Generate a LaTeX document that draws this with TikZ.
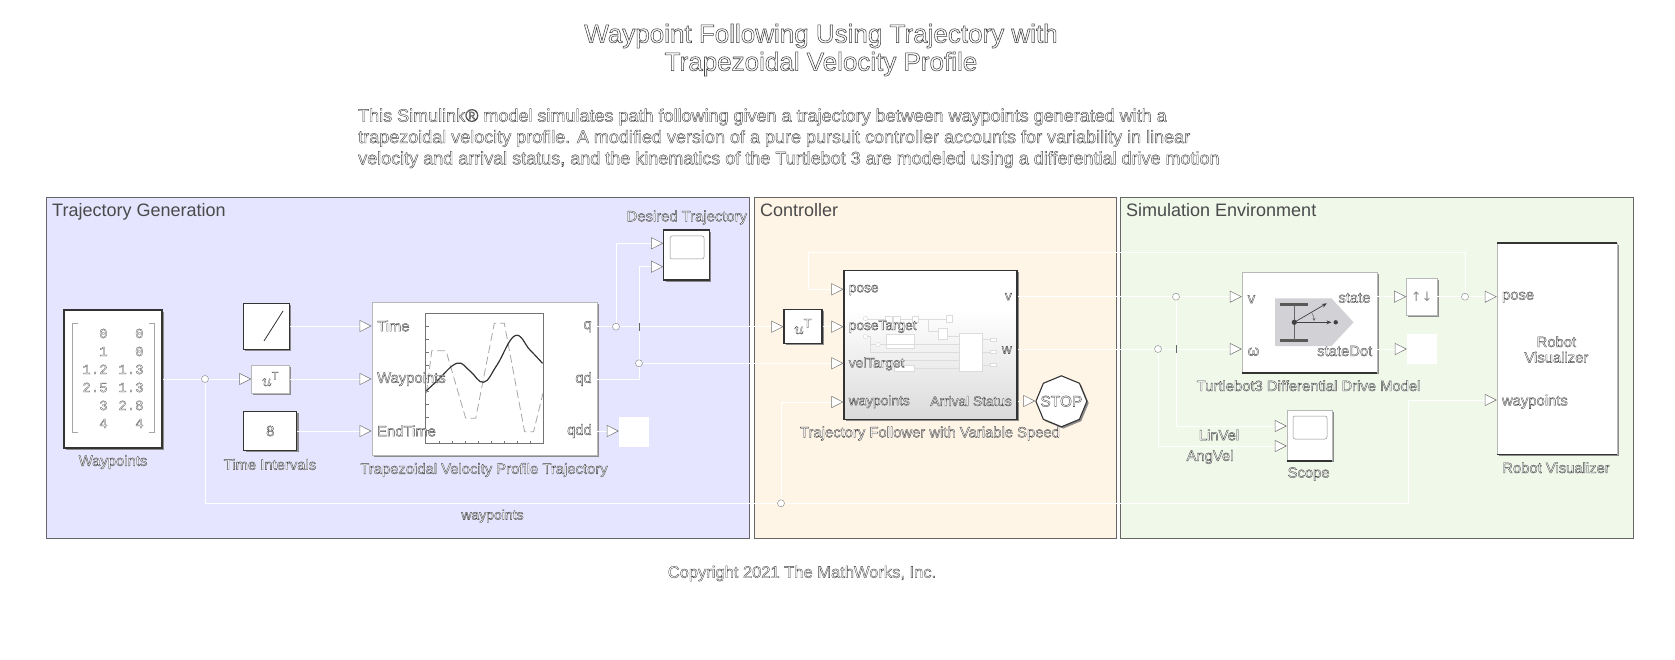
\documentclass[tikz,border=0pt]{standalone}
\usepackage{fontspec}
\setmainfont{Liberation Sans}
\newfontfamily\monof{Liberation Mono}
\newfontfamily\dejav{DejaVu Sans}
\usetikzlibrary{arrows.meta,shadows,shapes.geometric}
\definecolor{edgedark}{HTML}{333333}
\definecolor{edgegroup}{HTML}{666666}
\definecolor{grpblue}{HTML}{E5E5FF}
\definecolor{grporange}{HTML}{FFF5E6}
\definecolor{grpgreen}{HTML}{F0F8EA}
\definecolor{titlec}{HTML}{4A4A4A}
\definecolor{icong}{HTML}{D2D2D6}
\definecolor{iconl}{HTML}{DCDCDC}
\newcommand{\halotxt}[2][0.35]{\textcolor{white}{\special{pdf:code 2 Tr #1 w 0.25 0.25 0.25 RG}#2\special{pdf:code 0 Tr}}}
\pgfdeclareverticalshading{ctrlfade}{100bp}{color(0bp)=(black!24); color(62bp)=(white); color(100bp)=(white)}
\tikzset{
  x=1pt,y=-1pt,
  shad/.style={general shadow={fill=black!45,shadow xshift=1.8pt,shadow yshift=-1.8pt}},
  dkblock/.style={draw=edgedark,line width=1.1pt,fill=white,shad,inner sep=0pt},
  ltblock/.style={draw=black!28,line width=.5pt,fill=white,shad,inner sep=0pt},
  blank/.style={fill=white,inner sep=0pt},
  lbl/.style={font=\fontsize{14.8}{15.6}\selectfont,inner sep=0pt},
  cport/.style={lbl,font=\fontsize{13.7}{15}\selectfont},
  lblc/.style={lbl,align=center},
  grptitle/.style={font=\fontsize{18}{20}\selectfont,text=titlec,anchor=base west,inner sep=0pt},
  wire/.style={draw=white,line width=1pt},
  awire/.style={wire,-{Triangle[open,length=12pt,width=12pt,color=black!55,fill=white,line width=.5pt]}},
  jn/.style={circle,draw=black!50,fill=white,line width=.4pt,minimum size=7pt,inner sep=0pt},
  hop/.style={draw=black!60,line width=.6pt},
  ico/.style={draw=iconl,line width=.5pt},
  icob/.style={draw=iconl,line width=.5pt,fill=white},
}
\begin{document}
\begin{tikzpicture}
\useasboundingbox (0,0) rectangle (1675,660);
% groups
\draw[draw=edgegroup,line width=1pt,fill=grpblue] (46,197.5) rectangle (749,538);
\draw[draw=edgegroup,line width=1pt,fill=grporange] (754,197.5) rectangle (1116,538);
\draw[draw=edgegroup,line width=1pt,fill=grpgreen] (1120,197.5) rectangle (1633,538);
\node[grptitle] (tg) at (52,216.5) {Trajectory Generation};
\node[grptitle] (tc) at (760,216.5) {Controller};
\node[grptitle] (ts) at (1126,216.5) {Simulation Environment};
% title and text
\node[font=\fontsize{26}{28}\selectfont,align=center,inner sep=0pt] (title) at (821,50) {\halotxt[0.55]{Waypoint Following Using Trajectory with}\\\halotxt[0.55]{Trapezoidal Velocity Profile}};
\node[font=\fontsize{18}{21.3}\selectfont,align=left,anchor=north west,inner sep=0pt] (intro) at (358,108.5) {\halotxt[0.4]{This Simulink® model simulates path following given a trajectory between waypoints generated with a}\\ \halotxt[0.4]{trapezoidal velocity profile. A modified version of a pure pursuit controller accounts for variability in linear}\\ \halotxt[0.4]{velocity and arrival status, and the kinematics of the Turtlebot 3 are modeled using a differential drive motion}};
\node[lbl,font=\fontsize{16.5}{18}\selectfont] (copy) at (802,573.5) {\halotxt{Copyright 2021 The MathWorks, Inc.}};
% trajectory generation blocks
\node[dkblock,minimum width=98pt,minimum height=138pt] (wp) at (113,379) {};
\node[font=\fontsize{14}{18}\monof\selectfont,inner sep=0pt,anchor=east] (wpm) at (143.8,379.5) {\halotxt[0.25]{\setlength{\tabcolsep}{0pt}\renewcommand{\arraystretch}{1}\begin{tabular}{r@{\hspace{10.8pt}}r}0&0\\1&0\\1.2&1.3\\2.5&1.3\\3&2.8\\4&4\end{tabular}}};
\draw[draw=black!35,line width=.6pt] (78,323) -- (72,323) -- (72,432) -- (78,432);
\draw[draw=black!35,line width=.6pt] (149,323) -- (154,323) -- (154,432) -- (149,432);
\node[lbl] (wpl) at (113,462) {\halotxt{Waypoints}};
\node[dkblock,minimum width=46pt,minimum height=46pt] (ramp) at (266.6,326.5) {};
\draw[draw=edgedark,line width=.8pt] (264,341) -- (283,311);
\node[ltblock,minimum width=38pt,minimum height=28pt] (tr1) at (270.5,379) {\fontsize{16}{18}\selectfont\halotxt[0.25]{$u^{\mathrm{T}}$}};
\node[dkblock,minimum width=53pt,minimum height=39pt] (const) at (270.3,431) {\fontsize{14.8}{16}\selectfont\halotxt{8}};
\node[lbl] (constl) at (270,464.5) {\halotxt{Time Intervals}};
\node[ltblock,minimum width=225pt,minimum height=153pt] (traj) at (484.3,378.7) {};
\draw[draw=black!55,line width=.8pt,fill=white] (425.7,313.3) rectangle (543,443.3);
\foreach \i in {1,...,8}{\draw[draw=black!55,line width=.4pt] (425.7+13*\i,443.3) -- (425.7+13*\i,440.5);}
\foreach \i in {1,...,9}{\draw[draw=black!55,line width=.4pt] (425.7,313.3+13*\i) -- (428.5,313.3+13*\i);}
\draw[draw=black!35,line width=.8pt,dash pattern=on 8pt off 4pt] (426.4,393) -- (431.8,350.7) -- (446,350.7) -- (465.7,418.3) -- (475.7,418.3) -- (494.3,323.3) -- (504.3,323.3) -- (524.6,431.7) -- (533.6,431.7) -- (543,393);
\draw[draw=edgedark,line width=1.2pt] plot[smooth,tension=.7] coordinates {(426.4,390.7) (437,381) (456.8,363.3) (470,371) (483.6,382.3) (497,365) (515,335.7) (530,350) (542.5,363.3)};
\node[lbl,anchor=west] (p1) at (377,326) {\halotxt{Time}};
\node[lbl,anchor=west] (p2) at (377,379) {\halotxt{Waypoints}};
\node[lbl,anchor=west] (p3) at (377,431) {\halotxt{EndTime}};
\node[lbl,anchor=east] (p4) at (592,326.7) {\halotxt{q}};
\node[lbl,anchor=east] (p5) at (592,379) {\halotxt{qd}};
\node[lbl,anchor=east] (p6) at (592,431) {\halotxt{qdd}};
\node[lbl] (trajl) at (484,470) {\halotxt{Trapezoidal Velocity Profile Trajectory}};
\node[dkblock,minimum width=45.5pt,minimum height=50pt] (scope1) at (686.5,255) {};
\draw[draw=black!45,line width=.5pt,rounded corners=2pt] (670,236) rectangle (704,259);
\node[lbl] (scope1l) at (686.8,217.5) {\halotxt{Desired Trajectory}};
\node[blank,minimum width=30pt,minimum height=30pt] (term1) at (634,431.7) {};
\node[lbl,font=\fontsize{14}{15}\selectfont] (wplab) at (492.5,516) {\halotxt{waypoints}};
% controller blocks
\node[dkblock,minimum width=38pt,minimum height=34pt] (tr2) at (803,326.5) {\fontsize{18}{20}\selectfont\halotxt[0.25]{$u^{\mathrm{T}}$}};
\node[draw=edgedark,line width=1.1pt,shad,shading=ctrlfade,inner sep=0pt,minimum width=173pt,minimum height=148.6pt] (ctrl) at (930.5,345) {};
% faint icon
\draw[ico] (866,319) -- (947,319);
\draw[icob] (885,316.5) rectangle (892,322.5);
\draw[icob] (893,316) rectangle (900,322.5);
\draw[icob] (912.5,316) rectangle (918.5,322);
\draw[icob] (946.5,315.5) rectangle (952,322);
\draw[ico] (928,319) -- (928,331.5) -- (938.5,331.5);
\draw[icob] (938.5,328.5) rectangle (947.5,339);
\draw[icob] (886.5,334) rectangle (914.5,348.5);
\draw[ico] (866,336.5) -- (870.5,336.5) -- (870.5,352.5) -- (959,352.5);
\draw[ico] (871,344.5) -- (959,344.5);
\draw[ico] (903,360.7) -- (959,360.7);
\draw[ico] (914,368.5) -- (959,368.5);
\draw[ico] (947,336.5) -- (959,336.5);
\draw[icob] (959,333.5) rectangle (982.5,371);
\draw[icob] (894,365.5) rectangle (914,371);
\draw[ico] (982.5,339.5) -- (990.5,339.5);
\draw[ico] (982.5,352) -- (990.5,352);
\draw[ico] (982.5,365) -- (990.5,365);
\draw[icob] (990.5,338) rectangle (996,341.5);
\draw[icob] (990.5,350.5) rectangle (996,353.5);
\draw[icob] (990.5,363.5) rectangle (996,366.5);
\draw[icob] (865.5,318.5) circle (2.2);
\draw[icob] (865.5,336.5) circle (2.2);
\draw[icob] (878,344.5) circle (2.2);
\node[cport,anchor=west] (c1) at (848.6,290) {\halotxt{pose}};
\node[cport,anchor=west] (c2) at (848.6,326.7) {\halotxt{poseTarget}};
\node[cport,anchor=west] (c3) at (848.6,364) {\halotxt{velTarget}};
\node[cport,anchor=west] (c4) at (848.6,401.7) {\halotxt{waypoints}};
\node[cport,anchor=east] (c5) at (1012,296.7) {\halotxt{v}};
\node[cport,anchor=east] (c6) at (1012,350) {\halotxt{w}};
\node[cport,anchor=east] (c7) at (1012,401) {\halotxt{Arrival Status}};
\node[lbl] (ctrll) at (930,433.5) {\halotxt{Trajectory Follower with Variable Speed}};
\node[regular polygon,regular polygon sides=8,shape border rotate=22.5,draw=edgedark,line width=1.1pt,fill=white,shad,inner sep=0pt,minimum size=51pt] (stop) at (1061.4,401.3) {};
\node[font=\fontsize{15.5}{17}\selectfont,inner sep=0pt] (stopt) at (stop.center) {\halotxt{STOP}};
% simulation blocks
\node[ltblock,minimum width=135pt,minimum height=100.7pt] (tb) at (1309.5,322.3) {};
\draw[draw=edgedark,line width=1.4pt] (tb.south west) -- (tb.south east);
\fill[icong] (1275,298.3) -- (1331.4,298.3) -- (1353.6,322.3) -- (1331.4,346) -- (1275,346) -- cycle;
\draw[draw=black!65,line width=3pt] (1280.4,304.7) -- (1308,304.7);
\draw[draw=black!65,line width=3pt] (1280.4,340) -- (1308,340);
\draw[draw=black!60,line width=.8pt] (1294,304.7) -- (1294,340);
\fill[black!75] (1294.3,322.3) circle (2.6);
\fill[black!75] (1335.7,322.3) circle (2.2);
\draw[draw=black!75,line width=.7pt,-{Stealth[length=5pt,width=4pt]}] (1294.3,322.3) -- (1326.8,303.3);
\draw[draw=black!75,line width=.7pt,-{Stealth[length=5pt,width=4pt]}] (1294.3,322.3) -- (1331.4,322.3);
\draw[draw=black!60,line width=.5pt,-{Stealth[length=3pt,width=3pt]}] (1312,313) to[bend left=15] (1314,321);
\node[lbl,anchor=west] (s1) at (1247.5,299.3) {\halotxt{v}};
\node[lbl,anchor=west] (s2) at (1247.5,351.7) {\halotxt{ω}};
\node[lbl,anchor=east] (s3) at (1370.7,298) {\halotxt{state}};
\node[lbl,anchor=east] (s4) at (1372.5,351) {\halotxt{stateDot}};
\node[lbl] (tbl) at (1308.6,385.7) {\halotxt{Turtlebot3 Differential Drive Model}};
\node[ltblock,minimum width=30.5pt,minimum height=37pt] (sortb) at (1421.7,296.5) {\fontsize{13}{15}\dejav\selectfont\textcolor{black!45}{↑↓}};
\node[blank,minimum width=30pt,minimum height=30pt] (term2) at (1422,349) {};
\node[ltblock,minimum width=45pt,minimum height=50.7pt] (scope2) at (1309.5,435.3) {};
\draw[draw=edgedark,line width=1.4pt] (scope2.south west) -- (scope2.south east);
\draw[draw=black!45,line width=.5pt,rounded corners=2pt] (1293,416) rectangle (1327,439);
\node[lbl] (scope2l) at (1308.6,474) {\halotxt{Scope}};
\node[lbl] (lv) at (1219,435) {\halotxt{LinVel}};
\node[lbl] (av) at (1210,457) {\halotxt{AngVel}};
\node[ltblock,minimum width=120pt,minimum height=211pt] (rv) at (1557,348.8) {};
\draw[draw=edgedark,line width=1.6pt] (rv.north west) -- (rv.north east);
\draw[draw=edgedark,line width=1.6pt] (rv.south west) -- (rv.south east);
\node[lblc] (rvc) at (1556.4,349.5) {\halotxt{Robot}\\ \halotxt{Visualizer}};
\node[lbl,anchor=west] (r1) at (1501.8,297.3) {\halotxt{pose}};
\node[lbl,anchor=west] (r2) at (1501.8,401.7) {\halotxt{waypoints}};
\node[lbl] (rvl) at (1556,467.7) {\halotxt{Robot Visualizer}};
% junctions
\coordinate (j1) at (205,379);
\coordinate (j2) at (616,326.7);
\coordinate (j3) at (639,363.3);
\coordinate (j4) at (781,503.3);
\coordinate (j5) at (1176,296.7);
\coordinate (j6) at (1158,349);
\coordinate (j7) at (1465,296.7);
% wires
\draw[wire] (wp.east |- j1) -- (j1);
\draw[awire] (j1) -- (tr1.west |- j1);
\draw[awire] (ramp.east |- 0,326) -- (traj.west |- 0,326);
\draw[awire] (tr1.east |- 0,379) -- (traj.west |- 0,379);
\draw[awire] (const.east |- 0,431) -- (traj.west |- 0,431);
\draw[wire] (j1) -- (205,503.3) -- (1408,503.3) -- (1408,400);
\draw[awire] (1408,400) -- (rv.west |- 0,400);
\draw[awire] (j4) -- (781,402) -- (ctrl.west |- 0,402);
\draw[wire] (traj.east |- j2) -- (j2);
\draw[awire] (j2) -- (616,243.3) -- (scope1.west |- 0,243.3);
\draw[awire] (j2) -- (tr2.west |- j2);
\draw[awire] (traj.east |- 0,379) -- (639,379) -- (639,266.7) -- (scope1.west |- 0,266.7);
\draw[awire] (j3) -- (ctrl.west |- j3);
\draw[hop] (639,323) -- (639,330.5);
\draw[awire] (tr2.east |- 0,326.7) -- (ctrl.west |- 0,326.7);
\draw[awire] (traj.east |- 0,431) -- (term1.west |- 0,431);
\draw[awire] (ctrl.east |- 0,401) -- (stop.west |- 0,401);
\draw[wire] (ctrl.east |- j5) -- (j5);
\draw[awire] (j5) -- (tb.west |- j5);
\draw[awire] (j5) -- (1176,426) -- (scope2.west |- 0,426);
\draw[wire] (ctrl.east |- j6) -- (j6);
\draw[awire] (j6) -- (tb.west |- j6);
\draw[awire] (j6) -- (1158,446) -- (scope2.west |- 0,446);
\draw[hop] (1176,345) -- (1176,353);
\draw[awire] (tb.east |- 0,296.7) -- (sortb.west |- 0,296.7);
\draw[awire] (tb.east |- 0,349) -- (term2.west |- 0,349);
\draw[wire] (sortb.east |- j7) -- (j7);
\draw[awire] (j7) -- (rv.west |- j7);
\draw[awire] (j7) -- (1465,252.7) -- (808,252.7) -- (808,289.3) -- (ctrl.west |- 0,289.3);
% junction dots
\foreach \j/\n in {j1/d1,j2/d2,j3/d3,j4/d4,j5/d5,j6/d6,j7/d7}{\node[jn] (\n) at (\j) {};}
\end{tikzpicture}
\end{document}
